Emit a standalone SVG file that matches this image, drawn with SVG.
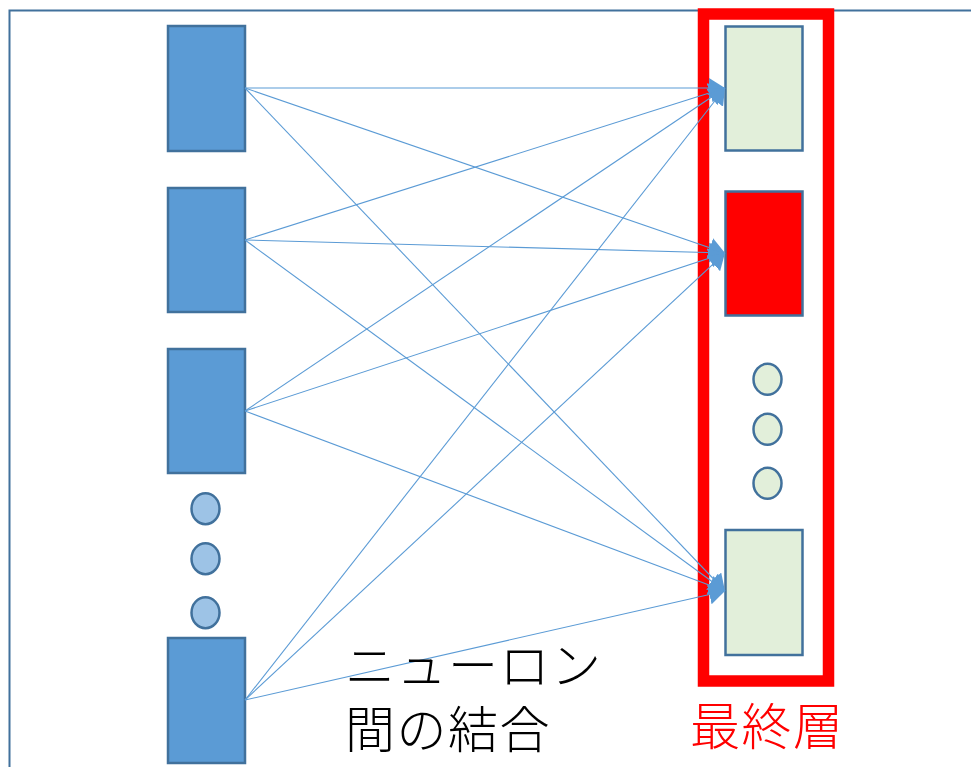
<svg xmlns="http://www.w3.org/2000/svg" width="971" height="767" viewBox="0 0 971 767">
<style>
.in{fill:#5B9BD5;stroke:#41719C;stroke-width:2.5}
.dotL{fill:#9DC3E6;stroke:#41719C;stroke-width:2.5}
.out{fill:#E2EFDA;stroke:#41719C;stroke-width:2.5}
.dotR{fill:#E2EFDA;stroke:#41719C;stroke-width:2.5}
.c{stroke:#5B9BD5;stroke-width:1.1;fill:none;marker-end:url(#ah)}
.t{font-family:"Noto Sans CJK JP",sans-serif;font-size:50px;font-weight:300;letter-spacing:1.5px}
</style>
<defs>
<marker id="ah" viewBox="0 0 16 20" refX="16" refY="10" markerWidth="16" markerHeight="20" markerUnits="userSpaceOnUse" orient="auto">
<path d="M0,0 L16,10 L0,20 Z" fill="#5B9BD5"/>
</marker>
</defs>
<rect x="9.5" y="10.5" width="1000" height="1000" fill="#fff" stroke="#41719C" stroke-width="2"/>
<g id="layer-frame"><rect x="703.5" y="14" width="125" height="667" fill="none" stroke="#FF0000" stroke-width="11.5"/></g>
<g id="in1"><rect class="in" x="168" y="26" width="77" height="125"/></g>
<g id="in2"><rect class="in" x="168" y="188" width="77" height="124"/></g>
<g id="in3"><rect class="in" x="168" y="349" width="77" height="124"/></g>
<g id="in-dots"><ellipse class="dotL" cx="205.5" cy="508.7" rx="14" ry="15.5"/><ellipse class="dotL" cx="205.5" cy="558.7" rx="14" ry="15.5"/><ellipse class="dotL" cx="205.5" cy="612.7" rx="14" ry="15.5"/></g>
<g id="in4"><rect class="in" x="168" y="638" width="77" height="125"/></g>
<g id="out1"><rect class="out" x="725.5" y="26.5" width="77" height="124"/></g>
<g id="out2"><rect class="out" x="725.5" y="191.5" width="77" height="124" style="fill:#FF0000"/></g>
<g id="out-dots"><ellipse class="dotR" cx="767.5" cy="379.3" rx="14" ry="15.5"/><ellipse class="dotR" cx="767.5" cy="429.3" rx="14" ry="15.5"/><ellipse class="dotR" cx="767.5" cy="483.3" rx="14" ry="15.5"/></g>
<g id="out3"><rect class="out" x="725.5" y="530" width="77" height="125"/></g>
<g id="connectors">
<line class="c" x1="245" y1="88" x2="725" y2="88"/>
<line class="c" x1="245" y1="88" x2="725" y2="253"/>
<line class="c" x1="245" y1="88" x2="725" y2="591"/>
<line class="c" x1="245" y1="240" x2="725" y2="88"/>
<line class="c" x1="245" y1="240" x2="725" y2="253"/>
<line class="c" x1="245" y1="240" x2="725" y2="591"/>
<line class="c" x1="245" y1="411" x2="725" y2="88"/>
<line class="c" x1="245" y1="411" x2="725" y2="253"/>
<line class="c" x1="245" y1="411" x2="725" y2="591"/>
<line class="c" x1="245" y1="700" x2="725" y2="88"/>
<line class="c" x1="245" y1="700" x2="725" y2="253"/>
<line class="c" x1="245" y1="700" x2="725" y2="591"/>
</g>
<g id="label-conn"><text class="t" fill="#000"><tspan x="345" y="684">ニューロン</tspan><tspan x="345" y="748">間の結合</tspan></text></g>
<g id="label-final"><text class="t" x="690" y="745" fill="#FF0000">最終層</text></g>
</svg>
